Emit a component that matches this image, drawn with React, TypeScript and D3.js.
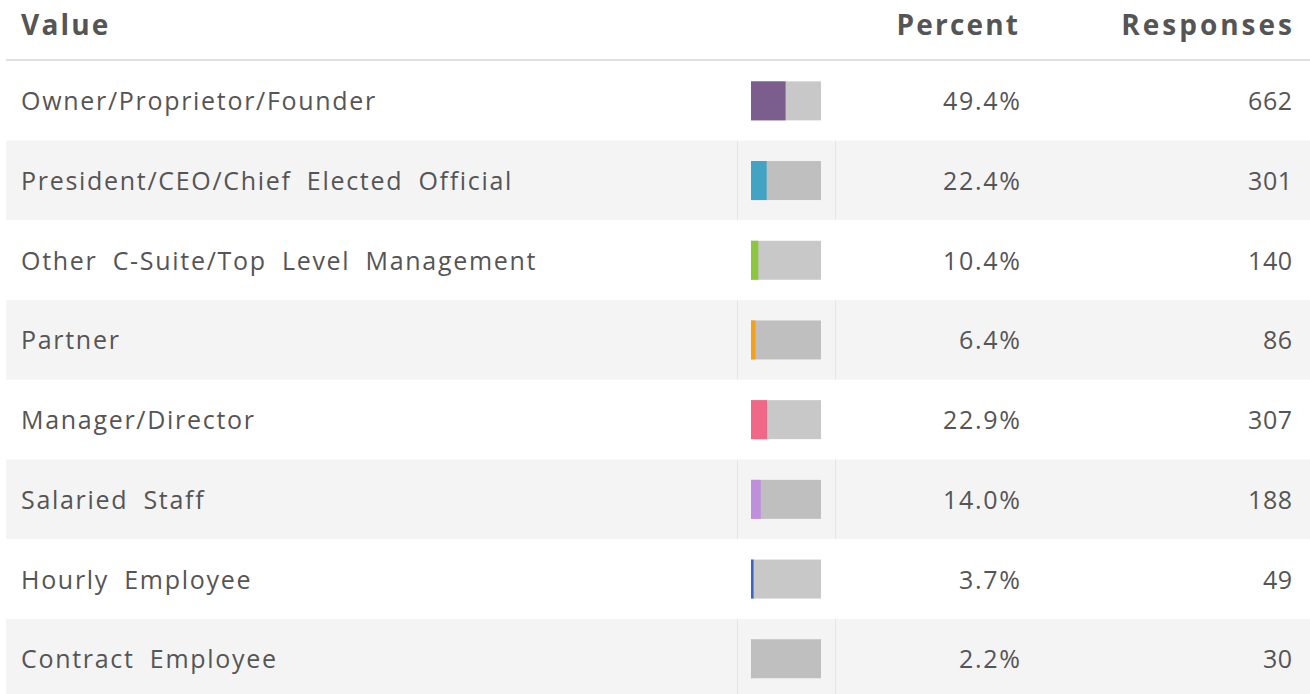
import { useEffect, useRef } from "react";
import * as d3 from "d3";

const labels = [
  "Owner/Proprietor/Founder",
  "President/CEO/Chief Elected Official",
  "Other C-Suite/Top Level Management",
  "Partner",
  "Manager/Director",
  "Salaried Staff",
  "Hourly Employee",
  "Contract Employee",
];
const percents = [49.4, 22.4, 10.4, 6.4, 22.9, 14.0, 3.7, 2.2];
const responses = [662, 301, 140, 86, 307, 188, 49, 30];
const colors = ["#7b5e8e", "#41a4c3", "#8dc63f", "#f5a01a", "#f06788", "#c08fdc", "#3a66c4", "#bdbdbd"];
const headers = ["Value", "Percent", "Responses"];

const App = () => {
  const ref = useRef<SVGSVGElement>(null);

  useEffect(() => {
    const width = 1310;
    const height = 694;
    const top = 61;
    const rowH = 79.7;
    const font = "'Open Sans', sans-serif";
    const textColor = "#555";
    const ls = 1.7;
    const hls = 2.2;

    const svg = d3.select(ref.current)
      .attr("width", width)
      .attr("height", height)
      .attr("viewBox", [0, 0, width, height]);

    svg.selectAll("*").remove();

    const y = d3.scaleBand<number>()
      .domain(d3.range(labels.length))
      .range([top, top + rowH * labels.length]);

    const barX = d3.scaleLinear().domain([0, 100]).range([0, 70]);

    // header
    const head = svg.append("g")
      .attr("font-family", font)
      .attr("font-size", 28)
      .attr("font-weight", 700)
      .attr("letter-spacing", hls)
      .attr("fill", textColor);
    head.append("text").attr("x", 21).attr("y", 35).text(headers[0]);
    head.append("text").attr("x", 1018 + hls).attr("y", 35).attr("text-anchor", "end").text(headers[1]);
    head.append("text").attr("x", 1292 + 3).attr("y", 35).attr("text-anchor", "end")
      .attr("letter-spacing", 3).text(headers[2]);

    svg.append("rect")
      .attr("x", 6).attr("y", 59)
      .attr("width", width - 6).attr("height", 2.5)
      .attr("fill", "#e0e0e0");

    const rows = svg.append("g")
      .selectAll("g")
      .data(labels)
      .join("g")
      .attr("transform", (_, i) => `translate(0,${y(i)})`);

    rows.append("rect")
      .attr("x", 6).attr("width", width - 6)
      .attr("height", y.bandwidth())
      .attr("fill", (_, i) => (i % 2 ? "#f4f4f4" : "#fff"));

    rows.filter((_, i) => i % 2 === 1)
      .selectAll("line")
      .data([737.5, 835.5])
      .join("line")
      .attr("x1", (d) => d).attr("x2", (d) => d)
      .attr("y1", 0).attr("y2", y.bandwidth())
      .attr("stroke", "#e6e6e6");

    const cy = y.bandwidth() / 2;

    rows.append("rect")
      .attr("x", 751).attr("y", cy - 19.5)
      .attr("width", barX(100)).attr("height", 39)
      .attr("fill", "#000").attr("fill-opacity", 0.215);

    rows.append("rect")
      .attr("x", 751).attr("y", cy - 19.5)
      .attr("width", (_, i) => barX(percents[i]))
      .attr("height", 39)
      .attr("fill", (_, i) => colors[i]);

    const txt = rows.append("g")
      .attr("font-family", font)
      .attr("font-size", 25)
      .attr("letter-spacing", ls)
      .attr("fill", textColor);

    txt.append("text")
      .attr("x", 21).attr("y", cy + 9.5)
      .attr("word-spacing", 7)
      .text((d) => d);

    txt.append("text")
      .attr("x", 1020 + ls).attr("y", cy + 9.5)
      .attr("text-anchor", "end")
      .text((_, i) => `${percents[i].toFixed(1)}%`);

    txt.append("text")
      .attr("x", 1292 + 0.5).attr("y", cy + 9.5)
      .attr("text-anchor", "end")
      .attr("letter-spacing", 0.5)
      .text((_, i) => responses[i]);
  }, []);

  return (
    <div style={{ position: "absolute", left: 0, top: 0 }}>
      <svg ref={ref} style={{ display: "block" }}></svg>
    </div>
  );
};

export default App;
